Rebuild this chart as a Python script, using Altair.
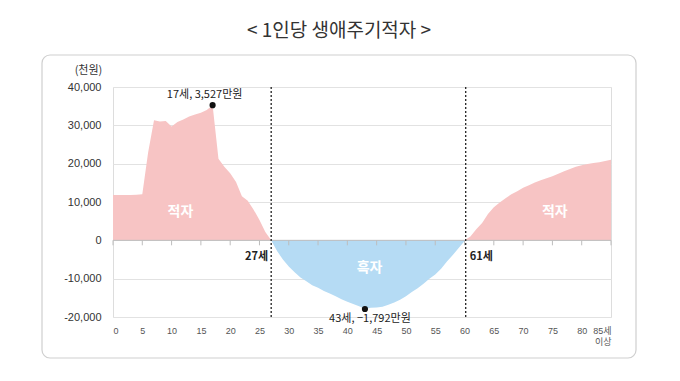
import altair as alt
import pandas as pd

ages = list(range(86))
deficit = [11800, 11800, 11800, 11800, 11900, 12000, 23000, 31300, 31000, 31100,
           29700, 30900, 31500, 32300, 32800, 33300, 34000, 35270, 21300, 19200,
           17500, 15200, 11500, 10300, 8000, 5300, 2200, 0, -2800, -5000,
           -6800, -8300, -9700, -10700, -11700, -12400, -13200, -13900, -14600, -15400,
           -16000, -16600, -17200, -17920, -17600, -17500, -17300, -16800, -16200, -15500,
           -14600, -13500, -12500, -11300, -10000, -8900, -7400, -5500, -3800, -2000,
           -200, 1000, 2900, 4500, 6900, 8600, 9900, 11000, 12000, 12800,
           13700, 14400, 15100, 15700, 16200, 16700, 17400, 18000, 18600, 19200,
           19600, 19900, 20200, 20400, 20700, 21000]

x_ticks = list(range(0, 86, 5))
y_ticks = [-20000, -10000, 0, 10000, 20000, 30000, 40000]

crossing_ages = [27, 60.2]
crossing_labels = ["27세", "61세"]

peak_ages = [17, 43]
peak_values = [35270, -17920]
peak_labels = ["17세, 3,527만원", "43세, −1,792만원"]

area_label_ages = [11.5, 43.8, 75.4]
area_label_values = [7400, -7200, 7400]
area_label_texts = ["적자", "흑자", "적자"]

KFONT = "'Noto Sans CJK KR', sans-serif"
NFONT = "'Liberation Sans', 'Noto Sans CJK KR', sans-serif"

df = pd.DataFrame({"age": ages, "v": deficit})
df["pos"] = df["v"].clip(lower=0)
df["neg"] = df["v"].clip(upper=0)

xs = alt.Scale(domain=[0, 85], nice=False, zero=False)
ys = alt.Scale(domain=[-20000, 40000], nice=False)

x_axis = alt.Axis(
    values=x_ticks, grid=False, domain=False, ticks=False, title=None,
    labelFont=NFONT, labelFontSize=9, labelColor="#555", labelPadding=9,
    labelLineHeight=11, labelBaseline="top",
    labelExpr="datum.value == 85 ? ['85세', '이상'] : datum.label")
y_axis = alt.Axis(
    values=y_ticks, format=",d", domain=False, ticks=False,
    gridColor="#e2e2e2", gridWidth=1,
    labelFont=NFONT, labelFontSize=11, labelColor="#333", labelPadding=12,
    labelExpr="replace(datum.label, '−', '-')",
    title="(천원)", titleAngle=0, titleX=-25, titleY=-17, titleAlign="center",
    titleBaseline="middle", titleFont=KFONT, titleFontSize=11,
    titleFontWeight="normal", titleColor="#333")


def X(f):
    return alt.X(f, scale=xs, axis=x_axis)


def Y(f):
    return alt.Y(f, scale=ys, axis=y_axis)


base = alt.Chart(df)

frame = alt.Chart(alt.Data(values=[{}])).mark_rect(
    fill="white", fillOpacity=0, stroke="#cfcfcf", strokeWidth=1.2, cornerRadius=8
).encode(x=alt.value(-71), x2=alt.value(523), y=alt.value(-32), y2=alt.value(271))

pos_area = base.mark_area(color="#F7C4C4", opacity=1).encode(x=X("age:Q"), y=Y("pos:Q"))
neg_area = base.mark_area(color="#B5DBF4", opacity=1).encode(x=X("age:Q"), y=Y("neg:Q"))

zero_rule = alt.Chart(alt.Data(values=[{"z": 0}])).mark_rule(color="#bdbdbd", strokeWidth=1).encode(
    y=Y("z:Q")
)

tick_df = pd.DataFrame({"t": x_ticks, "y0": [0] * len(x_ticks), "y1": [-1300] * len(x_ticks)})
tick_marks = alt.Chart(tick_df).mark_rule(color="#bdbdbd", strokeWidth=1).encode(
    x=X("t:Q"), y=Y("y0:Q"), y2="y1:Q",
)

cross_df = pd.DataFrame({"a": crossing_ages, "lab": crossing_labels,
                         "top": [40000, 40000], "bot": [-20000, -20000]})
dashed = alt.Chart(cross_df).mark_rule(color="#222", strokeWidth=1.3, strokeDash=[2, 2]).encode(
    x=X("a:Q"), y=Y("top:Q"), y2="bot:Q",
)

cross_left = alt.Chart(cross_df).transform_filter("datum.a < 40").mark_text(
    font=KFONT, fontSize=11, fontWeight="bold", color="#222", baseline="middle",
    align="right", dx=-3
).encode(x=X("a:Q"), y=alt.value(170), text="lab:N")
cross_right = alt.Chart(cross_df).transform_filter("datum.a >= 40").mark_text(
    font=KFONT, fontSize=11, fontWeight="bold", color="#222", baseline="middle",
    align="left", dx=4
).encode(x=X("a:Q"), y=alt.value(170), text="lab:N")

peak_df = pd.DataFrame({"a": peak_ages, "v": peak_values, "lab": peak_labels})
peak_pts = alt.Chart(peak_df).mark_circle(color="#111", size=38, opacity=1).encode(
    x=X("a:Q"), y=Y("v:Q"),
)
peak_text_top = alt.Chart(peak_df).transform_filter("datum.v > 0").mark_text(
    font=KFONT, fontSize=11, color="#222", baseline="middle", dx=-8, dy=-10
).encode(x=X("a:Q"), y=Y("v:Q"), text="lab:N")
peak_text_bot = alt.Chart(peak_df).transform_filter("datum.v < 0").mark_text(
    font=KFONT, fontSize=11, color="#222", baseline="middle", dx=5, dy=10
).encode(x=X("a:Q"), y=Y("v:Q"), text="lab:N")

al_df = pd.DataFrame({"a": area_label_ages, "v": area_label_values, "lab": area_label_texts})
area_text = alt.Chart(al_df).mark_text(
    font=KFONT, fontSize=14, fontWeight="bold", color="white", baseline="middle"
).encode(x=X("a:Q"), y=Y("v:Q"), text="lab:N")

chart = alt.layer(
    frame, pos_area, neg_area, zero_rule, tick_marks, dashed, cross_left, cross_right,
    peak_pts, peak_text_top, peak_text_bot, area_text
).properties(
    width=498, height=230,
    title=alt.TitleParams(
        text="< 1인당 생애주기적자 >", font=KFONT, fontSize=19, fontWeight="normal",
        color="#333", anchor="middle", dx=-23, offset=13),
    autosize=alt.AutoSizeParams(type="none"),
    padding={"left": 105, "top": 79, "right": 61, "bottom": 56},
).configure_view(stroke=None).configure(background="white")

chart.save("out.html", embed_options={"renderer": "svg", "actions": False})
